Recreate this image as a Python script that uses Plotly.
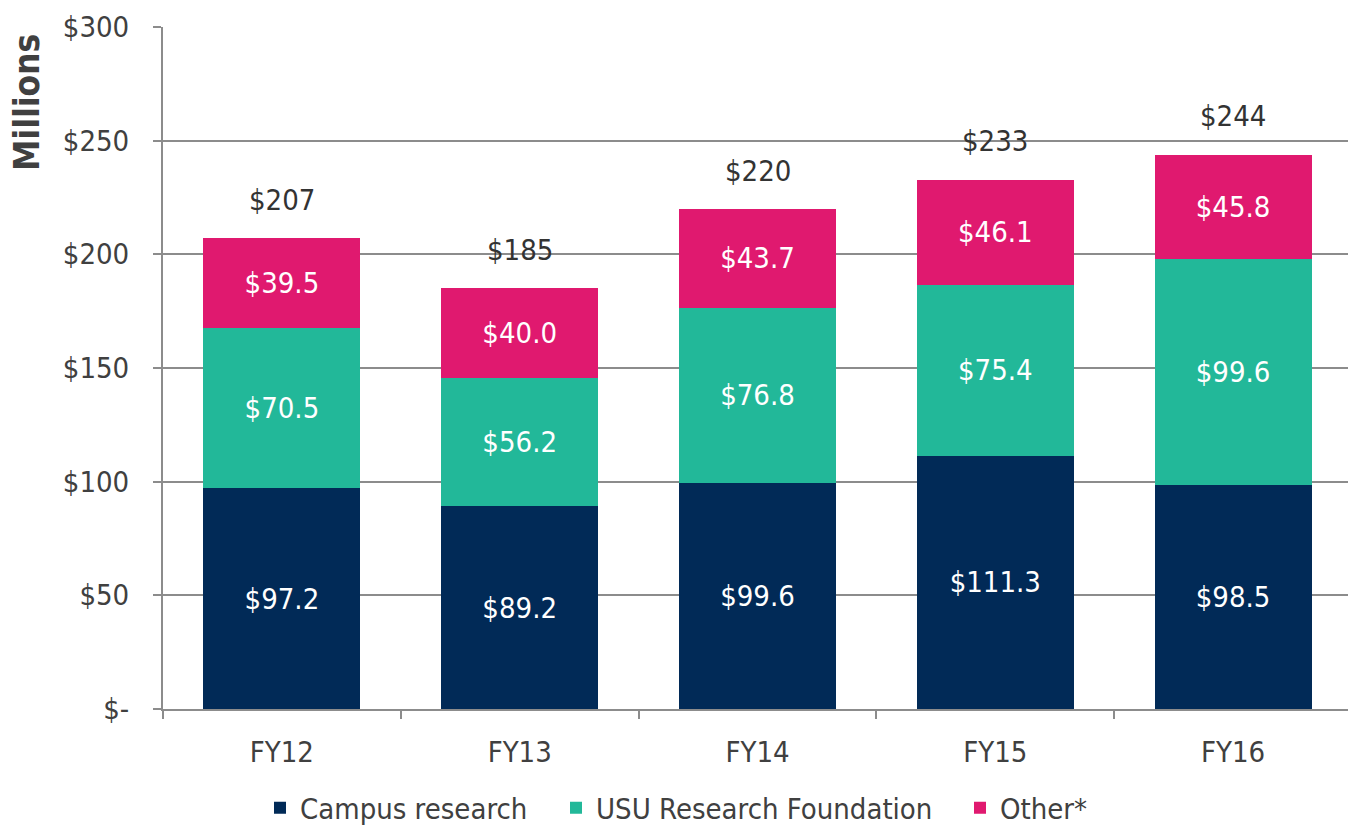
import plotly.graph_objects as go

categories = ["FY12", "FY13", "FY14", "FY15", "FY16"]
campus = [97.2, 89.2, 99.6, 111.3, 98.5]
foundation = [70.5, 56.2, 76.8, 75.4, 99.6]
other = [39.5, 40.0, 43.7, 46.1, 45.8]
totals = [207, 185, 220, 233, 244]
y_ticks = [0, 50, 100, 150, 200, 250, 300]
y_ticklabels = ["$-", "$50", "$100", "$150", "$200", "$250", "$300"]

FONT = "Liberation Sans Narrow, DejaVu Sans Condensed, sans-serif"
GRAY_TXT = "#404040"
LINE = "#8c8c8c"

fig = go.Figure()
series = [
    ("Campus research", campus, "#012A57", "legend"),
    ("USU Research Foundation", foundation, "#22B899", "legend2"),
    ("Other*", other, "#E0196F", "legend3"),
]
for name, vals, col, lg in series:
    fig.add_trace(go.Bar(
        x=categories, y=vals, name=name, legend=lg,
        marker=dict(color=col, line=dict(width=0)),
        text=[f"${v:.1f}" for v in vals],
        textposition="inside", insidetextanchor="middle",
        textfont=dict(color="white", size=29, family=FONT, weight="normal"),
        width=0.66,
    ))

for c, t in zip(categories, totals):
    fig.add_annotation(x=c, y=t, text=f"${t}", showarrow=False,
                       yanchor="middle", yshift=38,
                       font=dict(size=29, color="#333333", family=FONT, weight="normal"))

fig.add_annotation(xref="paper", yref="paper", x=-0.1144, y=0.89,
                   text="<b>Millions</b>", textangle=-90, showarrow=False,
                   xanchor="center", yanchor="middle",
                   font=dict(size=35, color=GRAY_TXT, family=FONT))

def px(screen_x):
    return (screen_x - 8 - 155) / 1189.0

leg_common = dict(orientation="h", xanchor="left", y=-0.145, yanchor="middle",
                  font=dict(size=29, color=GRAY_TXT, family=FONT, weight="normal"),
                  itemwidth=30, bgcolor="rgba(0,0,0,0)")

fig.update_layout(
    barmode="stack",
    width=1348, height=818,
    margin=dict(l=155, r=4, t=19, b=117, autoexpand=False),
    plot_bgcolor="white", paper_bgcolor="white",
    font=dict(family=FONT, color=GRAY_TXT, size=29, weight="normal"),
    uniformtext=dict(mode="show", minsize=10),
    legend=dict(x=px(260), **leg_common),
    legend2=dict(x=px(556), **leg_common),
    legend3=dict(x=px(960), **leg_common),
    showlegend=True,
)
fig.update_yaxes(range=[0, 300], tickvals=y_ticks, ticktext=y_ticklabels,
                 showgrid=True, gridcolor=LINE, gridwidth=2,
                 showline=True, linecolor=LINE, linewidth=2,
                 ticks="outside", ticklen=8, tickcolor=LINE, tickwidth=2,
                 ticklabelstandoff=18,
                 tickfont=dict(size=29, color=GRAY_TXT, family=FONT, weight="normal"),
                 zeroline=False)
fig.update_xaxes(showline=True, linecolor=LINE, linewidth=2,
                 ticks="outside", tickson="boundaries", ticklen=8,
                 tickcolor=LINE, tickwidth=2, ticklabelstandoff=16,
                 tickfont=dict(size=29, color=GRAY_TXT, family=FONT, weight="normal"))

fig.write_html("out.html")
